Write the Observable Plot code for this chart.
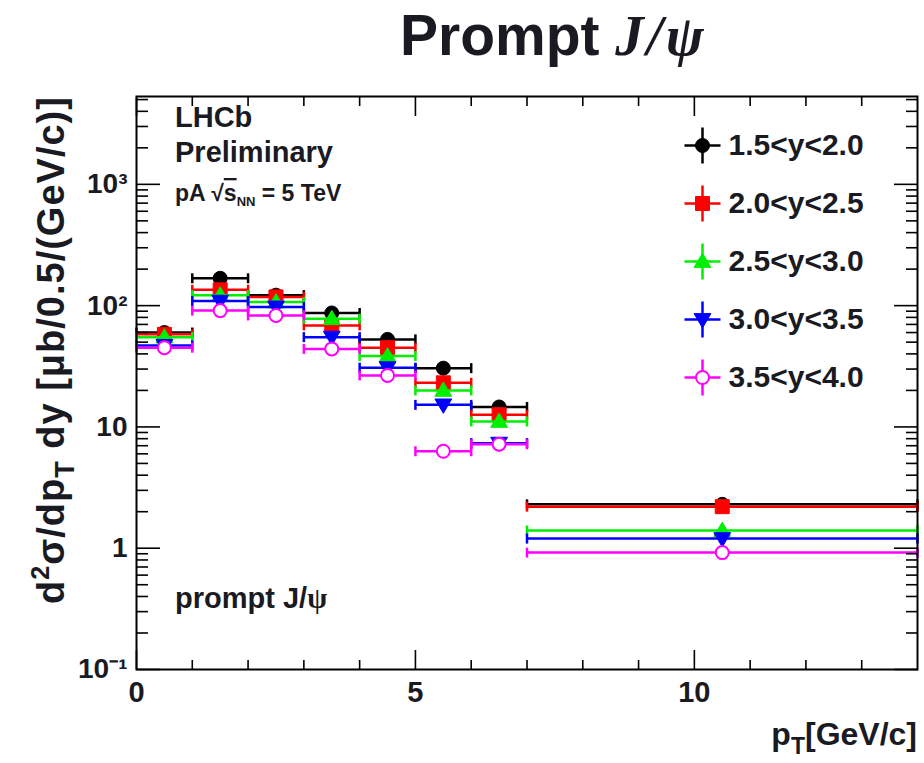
<!DOCTYPE html>
<html><head><meta charset="utf-8">
<script src="https://cdn.jsdelivr.net/npm/d3@7"></script>
<script src="https://cdn.jsdelivr.net/npm/@observablehq/plot@0.6"></script>
<style>
body{margin:0;background:#fff}
#chart svg{display:block;overflow:visible}
</style>
</head><body><div id="chart"></div>
<script>
// ---- data ----
const ptLo  = [0, 1, 2, 3, 4, 5, 6, 7];
const ptHi  = [1, 2, 3, 4, 5, 6, 7, 14];
const ptMid = [0.5, 1.5, 2.5, 3.5, 4.5, 5.5, 6.5, 10.5];
const seriesNames  = ["1.5<y<2.0", "2.0<y<2.5", "2.5<y<3.0", "3.0<y<3.5", "3.5<y<4.0"];
const seriesColors = ["#000000", "#ff0000", "#00ee00", "#0000ff", "#ff00ff"];
const sigma_15_20 = [60, 168, 122, 87, 52.7, 30.5, 14.6, 2.3];
const sigma_20_25 = [58, 135, 118, 68.7, 45, 23.1, 12.6, 2.2];
const sigma_25_30 = [55, 122, 107, 78, 38.4, 20, 11.1, 1.4];
const sigma_30_35 = [47, 109, 97.6, 55, 30.8, 15.2, 7.35, 1.2];
const sigma_35_40 = [45, 91, 83, 44, 26.6, 6.3, 7.2, 0.92];
const yTicks = [0.1, 1, 10, 100, 1000];
const yTickLabels = ["10\u207B\u00B9", "1", "10", "10\u00B2", "10\u00B3"];
const xTicks = [0, 5, 10];
const xTickLabels = ["0", "5", "10"];
const xMinor = [1, 2, 3, 4, 6, 7, 8, 9, 11, 12, 13];
const yMinor = [];
for (const d of [0.1, 1, 10, 100, 1000]) for (let k = 2; k <= 9; k++) if (k * d <= 5300) yMinor.push(k * d);

// ---- marker shapes ----
const rad = s => Math.sqrt(s / Math.PI);
const symSquare = {draw(c, s) { const r = rad(s); c.rect(-r, -r, 2 * r, 2 * r); }};
const symTriUp = {draw(c, s) { const r = rad(s) * 1.2; c.moveTo(0, -r); c.lineTo(r, r * 0.7); c.lineTo(-r, r * 0.7); c.closePath(); }};
const symTriDown = {draw(c, s) { const r = rad(s) * 1.2; c.moveTo(0, r); c.lineTo(r, -r * 0.7); c.lineTo(-r, -r * 0.7); c.closePath(); }};
const symH = {draw(c, s) { const r = rad(s); c.moveTo(-r, 0); c.lineTo(r, 0); }};
const symV = {draw(c, s) { const r = rad(s); c.moveTo(0, -r); c.lineTo(0, r); }};

const seriesValues = [sigma_15_20, sigma_20_25, sigma_25_30, sigma_30_35, sigma_35_40];
const markerSpec = [
  {symbol: "circle", fill: seriesColors[0], r: 7},
  {symbol: symSquare, fill: seriesColors[1], r: 7},
  {symbol: symTriUp, fill: seriesColors[2], r: 7},
  {symbol: symTriDown, fill: seriesColors[3], r: 7},
  {symbol: "circle", fill: "white", r: 6.5, strokeWidth: 2}
];

const marks = [];
seriesValues.forEach((vals, s) => {
  const rows = ptMid.map((x, i) => ({x, lo: ptLo[i], hi: ptHi[i], y: vals[i]}));
  const col = seriesColors[s];
  const m = markerSpec[s];
  marks.push(Plot.ruleY(rows, {y: "y", x1: "lo", x2: "hi", stroke: col, strokeWidth: 2.5}));
  marks.push(Plot.dot(rows, {x: "lo", y: "y", symbol: symV, r: 5, stroke: col, strokeWidth: 2.5}));
  marks.push(Plot.dot(rows, {x: "hi", y: "y", symbol: symV, r: 5, stroke: col, strokeWidth: 2.5}));
  marks.push(Plot.dot(rows, {x: "x", y: "y", symbol: m.symbol, r: m.r, fill: m.fill, stroke: col, strokeWidth: m.strokeWidth || 1}));
  // legend entry
  const dy = 49 + s * 58;
  marks.push(Plot.dot([0], {frameAnchor: "top-left", dx: 566, dy, symbol: symH, r: 18, stroke: col, strokeWidth: 2.5}));
  marks.push(Plot.dot([0], {frameAnchor: "top-left", dx: 566, dy, symbol: symV, r: 18, stroke: col, strokeWidth: 2.5}));
  marks.push(Plot.dot([0], {frameAnchor: "top-left", dx: 566, dy, symbol: m.symbol, r: m.r, fill: m.fill, stroke: col, strokeWidth: m.strokeWidth || 1}));
  marks.push(Plot.text([seriesNames[s]], {frameAnchor: "top-left", dx: 592, dy, text: d => d, textAnchor: "start", lineAnchor: "middle", fontSize: 30, fontWeight: "bold", fill: "#1a1a22"}));
});

const tickStyle = {stroke: "black", strokeWidth: 1.6, fill: "none", label: null};
const chart = Plot.plot({
  width: 924, height: 763,
  marginLeft: 136, marginRight: 7, marginTop: 96, marginBottom: 94,
  style: {fontFamily: "'Liberation Sans', Arial, sans-serif", color: "#1a1a22", background: "white"},
  x: {domain: [0, 14], label: null},
  y: {type: "log", domain: [0.1, 5300], label: null},
  marks: [
    ...marks,
    Plot.axisY({anchor: "left", ticks: yTicks, tickSize: -24, ...tickStyle}),
    Plot.axisY({anchor: "left", ticks: yMinor, tickSize: -12, ...tickStyle}),
    Plot.axisY({anchor: "right", ticks: yTicks, tickSize: -24, ...tickStyle}),
    Plot.axisY({anchor: "right", ticks: yMinor, tickSize: -12, ...tickStyle}),
    Plot.axisX({anchor: "bottom", ticks: xTicks, tickSize: -19, ...tickStyle}),
    Plot.axisX({anchor: "bottom", ticks: xMinor, tickSize: -9, ...tickStyle}),
    Plot.axisX({anchor: "top", ticks: xTicks, tickSize: -19, ...tickStyle}),
    Plot.axisX({anchor: "top", ticks: xMinor, tickSize: -9, ...tickStyle}),
    Plot.axisY({anchor: "left", ticks: yTicks, tickSize: 0, tickPadding: 9, label: null,
      tickFormat: d => yTickLabels[yTicks.indexOf(d)], fontSize: 28, fontWeight: "bold"}),
    Plot.axisX({anchor: "bottom", ticks: xTicks, tickSize: 0, tickPadding: 12, label: null,
      tickFormat: d => xTickLabels[xTicks.indexOf(d)], fontSize: 29, fontWeight: "bold"}),
    Plot.frame({stroke: "black", strokeWidth: 2})
  ]
});
document.getElementById("chart").append(chart);

// ---- rich-text labels (sub/superscripts) ----
const svg = d3.select(chart);
const ink = "#1a1a22";
const sans = "'Liberation Sans', Arial, sans-serif";
const serif = "'Liberation Serif', 'Times New Roman', serif";

// title
const t = svg.append("text").attr("x", 400).attr("y", 55).attr("fill", ink).attr("text-anchor", "start")
  .attr("font-family", sans).attr("font-weight", "bold").attr("font-size", 57);
t.append("tspan").text("Prompt ");
t.append("tspan").attr("font-family", serif).attr("font-style", "italic").text("J");
t.append("tspan").attr("font-family", serif).attr("font-style", "italic").attr("dx", 3).text("/");
t.append("tspan").attr("font-family", serif).attr("font-style", "italic").attr("dx", 3).text("\u03C8");

// y label
const yl = svg.append("text").attr("transform", "translate(64,350) rotate(-90)")
  .attr("text-anchor", "middle").attr("fill", ink).attr("letter-spacing", 1)
  .attr("font-family", sans).attr("font-weight", "bold").attr("font-size", 38);
yl.append("tspan").text("d");
yl.append("tspan").attr("font-size", 25).attr("dy", -15).text("2");
yl.append("tspan").attr("dy", 15).text("\u03C3/dp");
yl.append("tspan").attr("font-size", 27).attr("dy", 10).text("T");
yl.append("tspan").attr("dy", -10).text(" dy [\u03BCb/0.5/(GeV/c)]");

// x label
const xl = svg.append("text").attr("x", 917).attr("y", 745).attr("text-anchor", "end").attr("fill", ink)
  .attr("font-family", sans).attr("font-weight", "bold").attr("font-size", 32);
xl.append("tspan").text("p");
xl.append("tspan").attr("font-size", 23).attr("dy", 9).text("T");
xl.append("tspan").attr("dy", -9).text("[GeV/c]");

// annotations
const ann = (x, y, size) => svg.append("text").attr("x", x).attr("y", y).attr("fill", ink)
  .attr("text-anchor", "start")
  .attr("font-family", sans).attr("font-weight", "bold").attr("font-size", size);
ann(175, 127, 29).text("LHCb");
ann(175, 162, 29).text("Preliminary");
const e = ann(175, 201, 23);
e.append("tspan").text("pA \u221A");
e.append("tspan").text("s").attr("text-decoration", "overline");
e.append("tspan").attr("font-size", 13).attr("dy", 5).text("NN");
e.append("tspan").attr("dy", -5).text(" = 5 TeV");
const pj = ann(175, 608, 29);
pj.append("tspan").text("prompt J/");
pj.append("tspan").attr("font-family", serif).text("\u03C8");
</script>
</body></html>
